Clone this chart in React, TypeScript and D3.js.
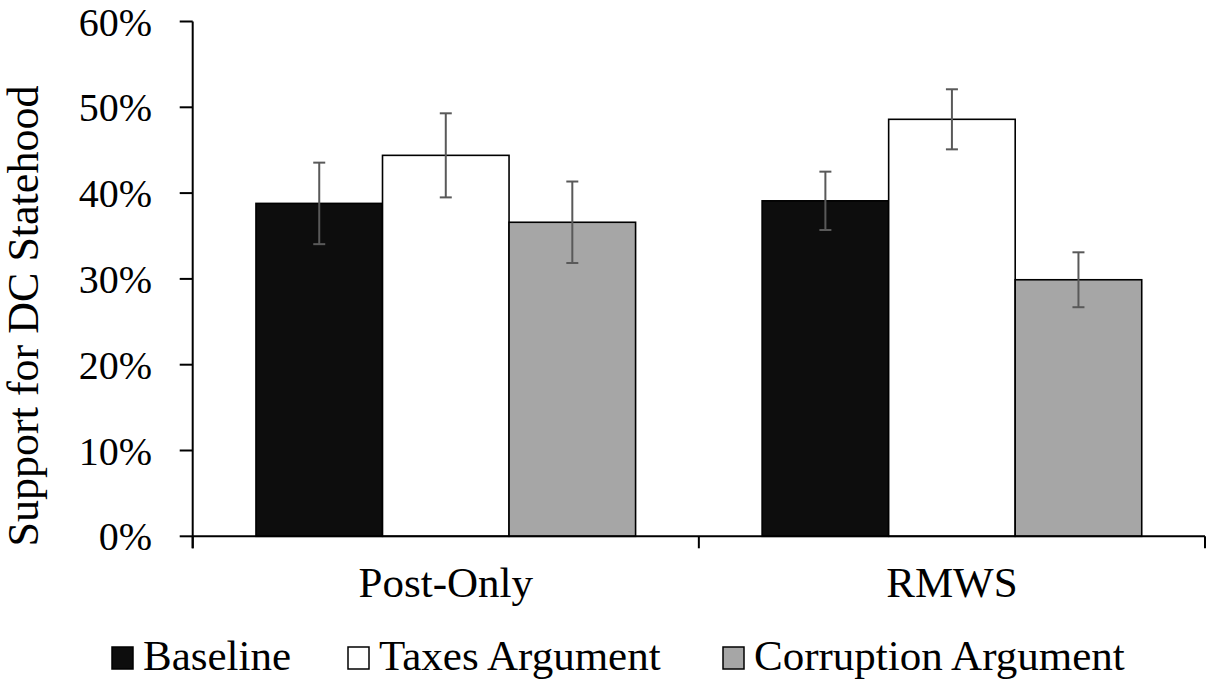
import React from 'react';
import * as d3 from 'd3';

const categories = ['Post-Only', 'RMWS'];
const seriesNames = ['Baseline', 'Taxes Argument', 'Corruption Argument'];
const seriesFill = ['#0d0d0d', '#ffffff', '#a6a6a6'];
const baselineVals = [0.388, 0.391];
const taxesVals = [0.444, 0.486];
const corruptionVals = [0.366, 0.299];
const baselineErr = [0.0475, 0.034];
const taxesErr = [0.049, 0.035];
const corruptionErr = [0.0475, 0.032];
const yTicks = [0, 0.1, 0.2, 0.3, 0.4, 0.5, 0.6];

const W = 1206;
const H = 681;
const FONT = 'Liberation Serif, Times New Roman, Tinos, DejaVu Serif, serif';

const left = 192.7;
const right = 1205;
const top = 21.5;
const bottom = 536.3;

const x = d3.scaleBand().domain(categories).range([left, right]).padding(0);
const xs = d3.scaleBand().domain(seriesNames).range([0, x.bandwidth()])
  .paddingInner(0).paddingOuter(0.5);
const y = d3.scaleLinear().domain([0, 0.6]).range([bottom, top]);
const pct = d3.format('.0%');

const vals = [baselineVals, taxesVals, corruptionVals];
const errs = [baselineErr, taxesErr, corruptionErr];
const rows = categories.flatMap((c, ci) =>
  seriesNames.map((s, si) => ({ c, s, si, v: vals[si][ci], e: errs[si][ci] }))
);

const legendX = [112, 348, 723];

const App = () => (
  <svg
    width={W}
    height={H}
    fontFamily={FONT}
    style={{ position: 'absolute', left: 0, top: 0, background: '#fff' }}
  >
    {/* bars */}
    {rows.map(d => (
      <rect
        key={d.c + d.s}
        x={x(d.c)! + xs(d.s)!}
        y={y(d.v)}
        width={xs.bandwidth()}
        height={bottom - y(d.v)}
        fill={seriesFill[d.si]}
        stroke="#000"
        strokeWidth={1.6}
      />
    ))}

    {/* error bars */}
    <g stroke="#595959" strokeWidth={2}>
      {rows.map(d => {
        const cx = x(d.c)! + xs(d.s)! + xs.bandwidth() / 2;
        const y1 = y(d.v + d.e);
        const y0 = y(d.v - d.e);
        return (
          <g key={d.c + d.s}>
            <line x1={cx} x2={cx} y1={y1} y2={y0} />
            <line x1={cx - 6} x2={cx + 6} y1={y1} y2={y1} />
            <line x1={cx - 6} x2={cx + 6} y1={y0} y2={y0} />
          </g>
        );
      })}
    </g>

    {/* axes */}
    <g stroke="#000" strokeWidth={2}>
      <line x1={left} x2={left} y1={top} y2={bottom + 12} />
      {yTicks.map(t => (
        <line key={t} x1={left - 13} x2={left} y1={y(t)} y2={y(t)} />
      ))}
      <line x1={left} x2={right} y1={bottom} y2={bottom} />
      {[...categories.map(c => x(c)!), right].map(b => (
        <line key={b} x1={b} x2={b} y1={bottom} y2={bottom + 12} />
      ))}
    </g>

    {yTicks.map(t => (
      <text
        key={t}
        x={152}
        y={y(t)}
        dy="0.35em"
        textAnchor="end"
        fontSize={40}
        fontFamily={FONT}
      >
        {pct(t)}
      </text>
    ))}

    {categories.map(c => (
      <text
        key={c}
        x={x(c)! + x.bandwidth() / 2}
        y={597}
        textAnchor="middle"
        fontSize={43}
        fontFamily={FONT}
      >
        {c}
      </text>
    ))}

    <text
      transform="translate(38,316) rotate(-90)"
      textAnchor="middle"
      fontSize={44}
      fontFamily={FONT}
    >
      Support for DC Statehood
    </text>

    {/* legend */}
    {seriesNames.map((s, i) => (
      <g key={s}>
        <rect
          x={legendX[i]}
          y={647}
          width={21}
          height={22}
          fill={seriesFill[i]}
          stroke="#000"
          strokeWidth={1.5}
        />
        <text x={legendX[i] + 31} y={670} fontSize={43} fontFamily={FONT}>
          {s}
        </text>
      </g>
    ))}
  </svg>
);

export default App;
